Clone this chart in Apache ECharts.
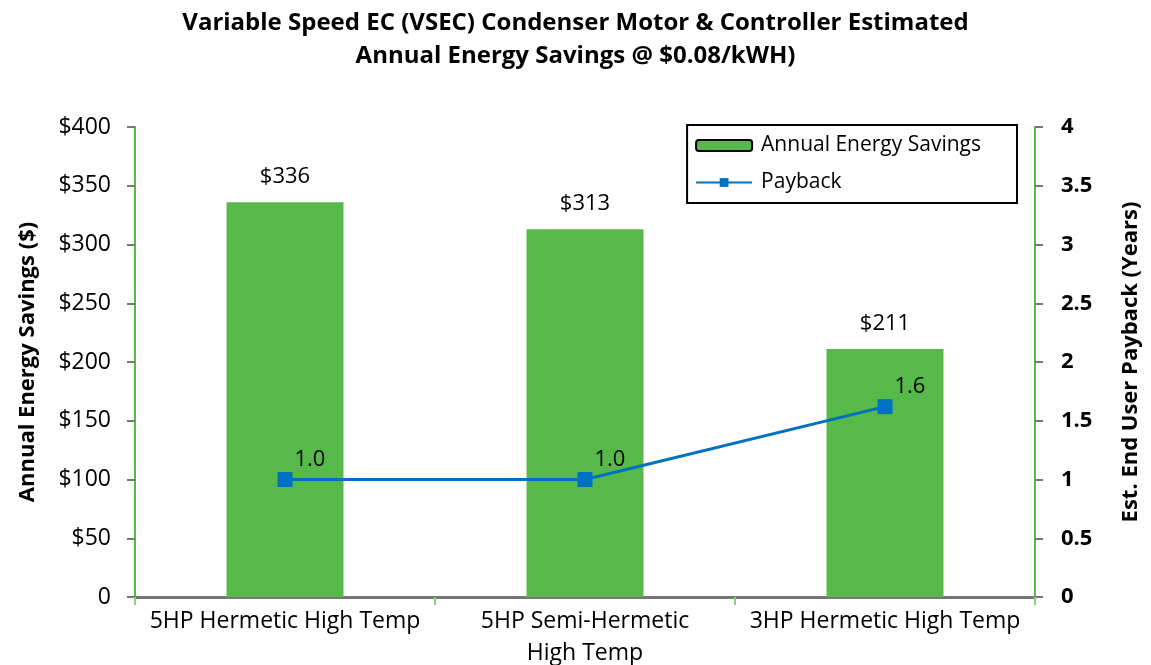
<!DOCTYPE html>
<html>
<head>
<meta charset="utf-8">
<script src="https://cdn.jsdelivr.net/npm/echarts@6/dist/echarts.min.js"></script>
<style>
  html, body { margin: 0; padding: 0; background: #fff; }
  #chart { width: 1151px; height: 665px; }
</style>
</head>
<body>
<div id="chart"></div>
<script>
// categories + values
const categories = ['5HP Hermetic High Temp', '5HP Semi-Hermetic\nHigh Temp', '3HP Hermetic High Temp'];
const savings = [336, 313, 211];
const payback = [1.0, 1.0, 1.62];

const FONT = 'Open Sans';
const GREEN = '#56B949';
const BLUE = '#0070C0';

let myChart = echarts.init(document.getElementById('chart'));
let option = {
  animation: false,
  textStyle: { fontFamily: FONT, color: '#000' },
  title: {
    text: 'Variable Speed EC (VSEC) Condenser Motor & Controller Estimated\nAnnual Energy Savings @ $0.08/kWH)',
    left: 'center',
    top: 2,
    textStyle: { fontSize: 24, fontWeight: 'bold', lineHeight: 33, color: '#000' }
  },
  legend: {
    right: 134,
    top: 125,
    orient: 'vertical',
    itemGap: 16,
    itemWidth: 56,
    itemHeight: 11,
    padding: [10, 36, 10, 8],
    borderColor: '#000',
    borderWidth: 2,
    textStyle: { fontSize: 21, color: '#000', padding: [0, 0, 0, 4] },
    data: [
      { name: 'Annual Energy Savings', itemStyle: { borderColor: '#000', borderWidth: 2 } },
      { name: 'Payback' }
    ]
  },
  grid: { left: 135, right: 116, top: 127, bottom: 68, outerBoundsMode: 'none' },
  xAxis: {
    type: 'category',
    data: categories,
    axisLine: { lineStyle: { color: '#777', width: 3 } },
    axisTick: { show: true, length: 8, lineStyle: { color: '#8fd080', width: 2 } },
    axisLabel: { fontSize: 23, color: '#000', margin: 8, lineHeight: 32, interval: 0 }
  },
  yAxis: [
    {
      type: 'value',
      min: 0, max: 400, interval: 50,
      name: 'Annual Energy Savings ($)',
      nameLocation: 'middle',
      nameGap: 96,
      nameTextStyle: { fontSize: 22, fontWeight: 'bold', color: '#000' },
      splitLine: { show: false },
      axisLine: { show: true, lineStyle: { color: GREEN, width: 2 } },
      axisTick: { show: true, length: 8, lineStyle: { color: '#777', width: 2 } },
      axisLabel: { fontSize: 23, color: '#000', margin: 24, formatter: v => v === 0 ? '0' : '$' + v }
    },
    {
      type: 'value',
      min: 0, max: 4, interval: 0.5,
      name: 'Est. End User Payback (Years)',
      nameLocation: 'middle',
      nameGap: 85,
      nameRotate: 90,
      nameTextStyle: { fontSize: 22, fontWeight: 'bold', color: '#000' },
      splitLine: { show: false },
      axisLine: { show: true, lineStyle: { color: GREEN, width: 2 } },
      axisTick: { show: true, length: 8, lineStyle: { color: '#777', width: 2 } },
      axisLabel: { fontSize: 22, fontWeight: 'bold', color: '#000', margin: 26 }
    }
  ],
  series: [
    {
      name: 'Annual Energy Savings',
      type: 'bar',
      data: savings,
      barWidth: '39%',
      itemStyle: { color: GREEN },
      label: {
        show: true, position: 'top', distance: 14,
        fontSize: 22, color: '#000',
        formatter: p => '$' + p.value
      }
    },
    {
      name: 'Payback',
      type: 'line',
      yAxisIndex: 1,
      data: payback,
      symbol: 'rect',
      symbolSize: 15,
      lineStyle: { color: BLUE, width: 3 },
      itemStyle: { color: BLUE },
      label: {
        show: true, position: 'right', distance: 2, offset: [0, -20],
        fontSize: 22, color: '#000',
        formatter: p => p.value.toFixed(1)
      }
    }
  ]
};
myChart.setOption(option);
</script>
</body>
</html>
